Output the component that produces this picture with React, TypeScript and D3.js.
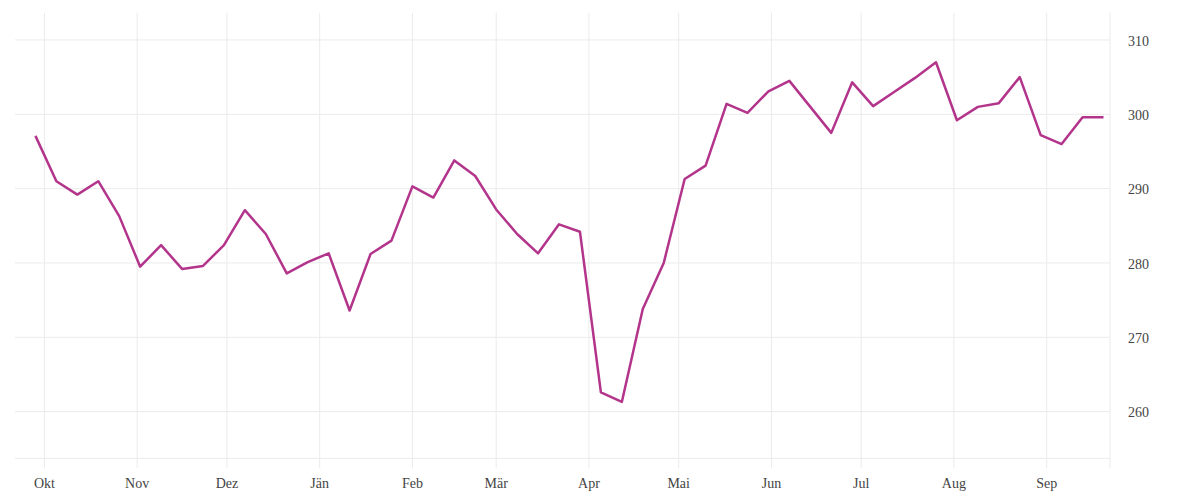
import React from "react";
import * as d3 from "d3";

// weekly closing values
const dates = [
  "2022-09-28", "2022-10-05", "2022-10-12", "2022-10-19", "2022-10-26",
  "2022-11-02", "2022-11-09", "2022-11-16", "2022-11-23", "2022-11-30",
  "2022-12-07", "2022-12-14", "2022-12-21", "2022-12-28",
  "2023-01-04", "2023-01-11", "2023-01-18", "2023-01-25",
  "2023-02-01", "2023-02-08", "2023-02-15", "2023-02-22",
  "2023-03-01", "2023-03-08", "2023-03-15", "2023-03-22", "2023-03-29",
  "2023-04-05", "2023-04-12", "2023-04-19", "2023-04-26",
  "2023-05-03", "2023-05-10", "2023-05-17", "2023-05-24", "2023-05-31",
  "2023-06-07", "2023-06-14", "2023-06-21", "2023-06-28",
  "2023-07-05", "2023-07-12", "2023-07-19", "2023-07-26",
  "2023-08-02", "2023-08-09", "2023-08-16", "2023-08-23", "2023-08-30",
  "2023-09-06", "2023-09-13", "2023-09-20",
];

const values = [
  297.1, 291.0, 289.2, 291.0, 286.3,
  279.5, 282.4, 279.2, 279.6, 282.4,
  287.1, 283.9, 278.6, 280.1,
  281.3, 273.6, 281.2, 283.0,
  290.3, 288.8, 293.8, 291.7,
  287.2, 283.9, 281.3, 285.2, 284.2,
  262.6, 261.3, 273.8, 280.0,
  291.3, 293.1, 301.4, 300.2, 303.1,
  304.5, 301.0, 297.5, 304.3,
  301.1, 303.0, 304.9, 307.0,
  299.2, 301.0, 301.5, 305.0, 297.2,
  296.0, 299.6, 299.6,
];

const monthLabels = ["Okt", "Nov", "Dez", "Jän", "Feb", "Mär", "Apr", "Mai", "Jun", "Jul", "Aug", "Sep"];
const yTicks = [260, 270, 280, 290, 300, 310];

const W = 1200;
const H = 500;
const left = 15;
const right = 1110;
const top = 12.7;
const bottom = 458.3;

const App: React.FC = () => {
  const data = dates.map((d, i) => ({ date: new Date(d + "T00:00:00Z"), value: values[i] }));

  const x = d3
    .scaleUtc()
    .domain([new Date(Date.UTC(2022, 8, 21, 4)), new Date(Date.UTC(2023, 8, 22, 4))])
    .range([left, right]);

  const y = d3.scaleLinear().domain([253.72, 313.67]).range([bottom, top]);

  const monthTicks = d3.utcMonth.range(new Date(Date.UTC(2022, 9, 1)), new Date(Date.UTC(2023, 9, 1)));

  const line = d3
    .line<{ date: Date; value: number }>()
    .x((d) => x(d.date))
    .y((d) => y(d.value));

  const grid = "#ebebeb";
  const font = "'Liberation Serif', serif";

  return (
    <div style={{ position: "fixed", left: 0, top: 0 }}>
      <svg width={W} height={H} style={{ display: "block", background: "#fff" }}>
        {/* horizontal grid */}
        {yTicks.map((t) => (
          <line key={t} x1={left} x2={right} y1={y(t)} y2={y(t)} stroke={grid} strokeWidth={1} />
        ))}
        <line x1={left} x2={right} y1={bottom} y2={bottom} stroke={grid} strokeWidth={1} />
        {/* vertical grid, running past the bottom edge like ticks */}
        {monthTicks.map((m) => (
          <line key={+m} x1={x(m)} x2={x(m)} y1={top} y2={bottom + 10} stroke={grid} strokeWidth={1} />
        ))}
        <line x1={right} x2={right} y1={top} y2={bottom + 10} stroke={grid} strokeWidth={1} />

        <path d={line(data) ?? ""} fill="none" stroke="#b3348b" strokeWidth={2.5} strokeLinejoin="round" />

        {monthTicks.map((m, i) => (
          <text
            key={"l" + i}
            x={x(m)}
            y={488}
            textAnchor="middle"
            fontFamily={font}
            fontSize={14}
            fill="#444"
          >
            {monthLabels[i]}
          </text>
        ))}
        {yTicks.map((t) => (
          <text
            key={"y" + t}
            x={1128}
            y={y(t)}
            dy="0.4em"
            fontFamily={font}
            fontSize={14}
            fill="#444"
          >
            {t}
          </text>
        ))}
      </svg>
    </div>
  );
};

export default App;
